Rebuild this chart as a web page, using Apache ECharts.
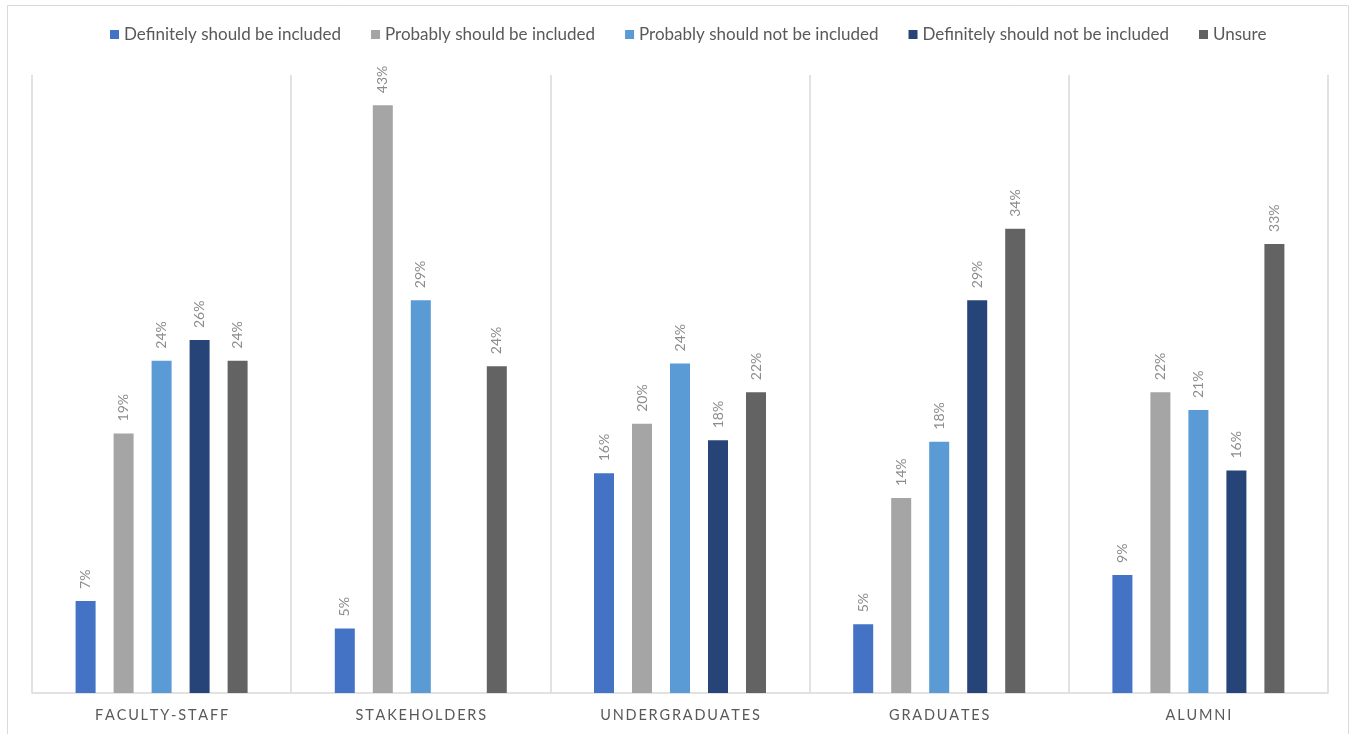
<!DOCTYPE html>
<html><head><meta charset="utf-8">
<script src="https://cdn.jsdelivr.net/npm/echarts@6/dist/echarts.min.js"></script>
<style>html,body{margin:0;padding:0;background:#fff}#c{width:1353px;height:734px}</style>
</head><body><div id="c"></div>
<script>
const categories = ['Faculty-Staff', 'Stakeholders', 'Undergraduates', 'Graduates', 'Alumni'];
const seriesNames = ['Definitely should be included', 'Probably should be included', 'Probably should not be included', 'Definitely should not be included', 'Unsure'];
const definitelyIncluded = [6.7, 4.7, 16.0, 5.0, 8.6];
const probablyIncluded = [18.9, 42.8, 19.6, 14.2, 21.9];
const probablyNotIncluded = [24.2, 28.6, 24.0, 18.3, 20.6];
const definitelyNotIncluded = [25.7, 0, 18.4, 28.6, 16.2];
const unsure = [24.2, 23.8, 21.9, 33.8, 32.7];
const colors = ['#4472C4', '#A5A5A5', '#5B9BD5', '#264478', '#636363'];
const allData = [definitelyIncluded, probablyIncluded, probablyNotIncluded, definitelyNotIncluded, unsure];

const font = 'Lato, "Open Sans", sans-serif';
const chart = echarts.init(document.getElementById('c'));
chart.setOption({
  animation: false,
  color: colors,
  graphic: [{type: 'rect', shape: {x: 7.5, y: 5.5, width: 1341, height: 740}, style: {fill: 'none', stroke: '#d9d9d9', lineWidth: 1}, silent: true}],
  legend: {
    top: 21, left: 105, itemWidth: 9, itemHeight: 9, itemGap: 30, icon: 'rect',
    textStyle: {color: '#595959', fontSize: 17, fontFamily: font}
  },
  grid: {left: 32, right: 25, top: 75, bottom: 41, containLabel: false},
  xAxis: {
    type: 'category', data: categories,
    axisLine: {lineStyle: {color: '#d9d9d9', width: 1.5}},
    axisTick: {show: false},
    splitLine: {show: true, interval: 0, lineStyle: {color: '#d9d9d9', width: 1.5}},
    axisLabel: {
      color: '#595959', fontSize: 14.5, fontFamily: font, margin: 15,
      formatter: v => v.toUpperCase().split('').join('\u2009')
    }
  },
  yAxis: {type: 'value', min: 0, max: 45, show: false, splitLine: {show: false}},
  series: seriesNames.map((n, i) => ({
    name: n, type: 'bar', data: allData[i], barWidth: 20, barGap: '90%',
    label: {
      show: true, position: 'top', rotate: 90, align: 'left', verticalAlign: 'middle', distance: 12,
      color: '#8c8c8c', fontSize: 14, fontFamily: font,
      formatter: p => p.value > 0 ? Math.round(p.value) + '%' : ''
    }
  }))
});
</script></body></html>
